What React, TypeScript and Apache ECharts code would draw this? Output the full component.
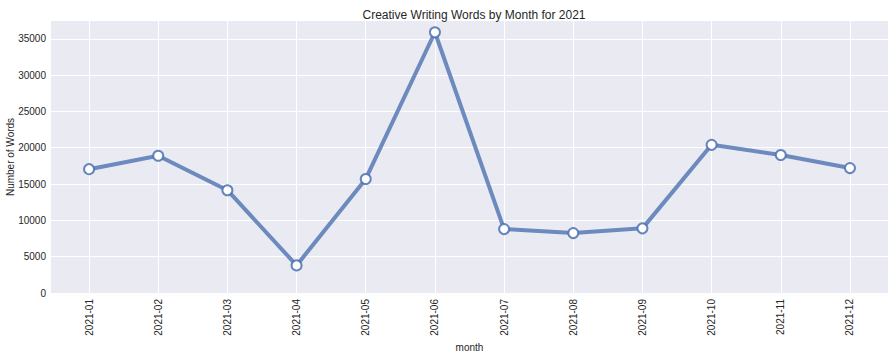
import React, { useEffect, useRef } from "react";
import * as echarts from "echarts";

const months = [
  "2021-01", "2021-02", "2021-03", "2021-04", "2021-05", "2021-06",
  "2021-07", "2021-08", "2021-09", "2021-10", "2021-11", "2021-12",
];
const words = [17050, 18900, 14150, 3800, 15700, 35900, 8800, 8250, 8900, 20400, 19000, 17200];
const yTicks = [0, 5000, 10000, 15000, 20000, 25000, 30000, 35000];

export default function App() {
  const ref = useRef<HTMLDivElement>(null);
  useEffect(() => {
    if (!ref.current) return;
    const chart = echarts.init(ref.current, null, { renderer: "svg" });
    const font = "Liberation Sans, Arial, sans-serif";
    const txt = "#262626";
    const xIdx = months.map((_, i) => i);
    chart.setOption({
      animation: false,
      backgroundColor: "#ffffff",
      title: {
        text: "Creative Writing Words by Month for 2021",
        left: 469,
        textAlign: "center",
        top: 4,
        textStyle: { fontFamily: font, fontSize: 12, fontWeight: "normal", color: txt },
      },
      grid: {
        left: 51,
        right: 7,
        top: 21,
        bottom: 60,
        show: true,
        backgroundColor: "#EAEAF2",
        borderWidth: 0,
        containLabel: false,
        outerBoundsMode: "none",
      },
      xAxis: {
        type: "value",
        min: -0.55,
        max: 11.55,
        name: "month",
        nameLocation: "middle",
        nameGap: 49,
        nameMoveOverlap: false,
        nameTextStyle: { fontFamily: font, fontSize: 10, color: txt },
        axisLine: { show: false },
        axisTick: { show: false, customValues: xIdx },
        splitLine: { show: true, lineStyle: { color: "#ffffff", width: 1 } },
        axisLabel: {
          rotate: 90,
          margin: 6,
          fontFamily: font,
          fontSize: 10,
          color: txt,
          customValues: xIdx,
          formatter: (v: number) => months[Math.round(v)] ?? "",
        },
      },
      yAxis: {
        type: "value",
        min: yTicks[0],
        max: 37450,
        name: "Number of Words",
        nameLocation: "middle",
        nameGap: 36,
        nameMoveOverlap: false,
        nameTextStyle: { fontFamily: font, fontSize: 10, color: txt },
        axisLine: { show: false },
        axisTick: { show: false, customValues: yTicks },
        splitLine: { show: true, lineStyle: { color: "#ffffff", width: 1 } },
        axisLabel: {
          margin: 5,
          fontFamily: font,
          fontSize: 10,
          color: txt,
          customValues: yTicks,
          formatter: (v: number) => String(v),
        },
      },
      series: [
        {
          type: "line",
          data: words.map((w, i) => [i, w]),
          lineStyle: { color: "rgba(76,114,176,0.8)", width: 4 },
          itemStyle: { color: "#ffffff", borderColor: "rgba(76,114,176,0.85)", borderWidth: 2 },
          symbol: "circle",
          symbolSize: 10,
          showSymbol: true,
        },
      ],
    });
    return () => chart.dispose();
  }, []);
  return (
    <div
      ref={ref}
      style={{ position: "fixed", left: 0, top: 0, width: 895, height: 353 }}
    />
  );
}
